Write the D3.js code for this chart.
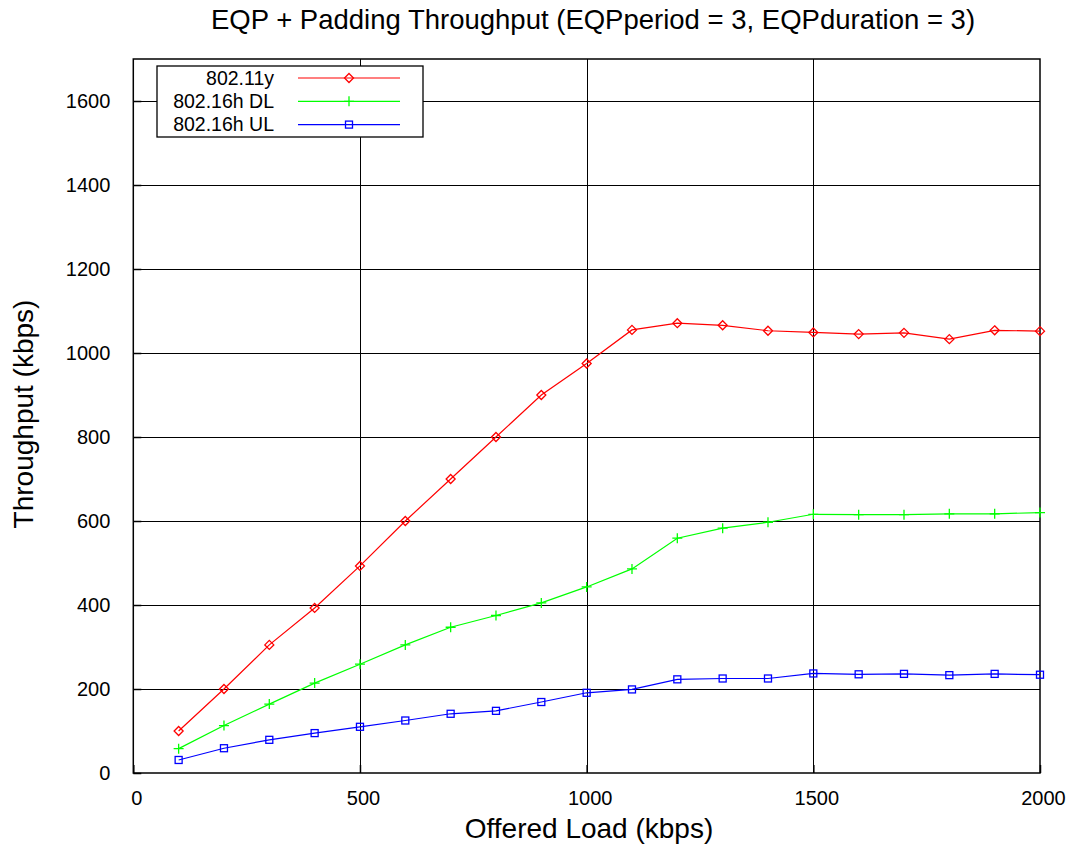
<!DOCTYPE html>
<html><head><meta charset="utf-8">
<script src="https://cdn.jsdelivr.net/npm/d3@7"></script>
<style>body{margin:0;background:#fff;} text{font-family:"Liberation Sans",Arial,sans-serif;}</style>
</head><body>
<svg id="c" width="1071" height="849"></svg>
<script>
const offeredLoad = [100,200,300,400,500,600,700,800,900,1000,1100,1200,1300,1400,1500,1600,1700,1800,1900,2000];
const wifi11y = [100,200,305,393,493,600,700,800,900,975,1055,1071,1066,1053,1049,1045,1048,1033,1054,1052];
const wimaxDL = [58,113,164,214,259,305,347,375,405,443,486,559,583,597,616,615,615,617,617,620];
const wimaxUL = [31,59,79,95,110,125,141,148,169,191,199,223,225,225,237,235,236,233,236,234];
const seriesNames = ["802.11y","802.16h DL","802.16h UL"];
const seriesColors = ["#ff0000","#00ff00","#0000ff"];
const seriesMarkers = ["diamond","plus","square"];
const xTicks = [0,500,1000,1500,2000];
const yTicks = [0,200,400,600,800,1000,1200,1400,1600];
const titleText = "EQP + Padding Throughput (EQPperiod = 3, EQPduration = 3)";
const xLabel = "Offered Load (kbps)";
const yLabel = "Throughput (kbps)";

const svg = d3.select("#c");
const L=133.3, R=1040, T=59, B=773;
const x = d3.scaleLinear().domain([0,2000]).range([L,R]);
const y = d3.scaleLinear().domain([0,1700]).range([B,T]);

// grid
const g = svg.append("g");
g.selectAll(".vg").data(xTicks.filter(d=>d>0&&d<2000)).join("line")
 .attr("x1",d=>Math.round(x(d))+0.5).attr("x2",d=>Math.round(x(d))+0.5).attr("y1",T).attr("y2",B)
 .attr("stroke","#000").attr("stroke-width",1);
g.selectAll(".hg").data(yTicks.filter(d=>d>0)).join("line")
 .attr("y1",d=>Math.round(y(d))+0.5).attr("y2",d=>Math.round(y(d))+0.5).attr("x1",L).attr("x2",R)
 .attr("stroke","#000").attr("stroke-width",1);

// axes (labels only, ticks inward)
const xa = svg.append("g").attr("transform",`translate(0,${B})`)
 .call(d3.axisBottom(x).tickValues(xTicks).tickSize(-8).tickPadding(18).tickFormat(d3.format("d")));
const ya = svg.append("g").attr("transform",`translate(${L},0)`)
 .call(d3.axisLeft(y).tickValues(yTicks).tickSize(-8).tickPadding(23).tickFormat(d3.format("d")));
[xa,ya].forEach(a=>{a.select(".domain").remove();a.selectAll("text").attr("font-size",20).attr("fill","#000").style("font-family","Liberation Sans, Arial, sans-serif");a.selectAll("line").attr("stroke","#000").attr("stroke-width",1.5);});
xa.selectAll("text").attr("dy","0.71em").attr("dx",3);

// border
svg.append("rect").attr("x",L).attr("y",T).attr("width",R-L).attr("height",B-T)
 .attr("fill","none").attr("stroke","#000").attr("stroke-width",1.5);

const data = [wifi11y,wimaxDL,wimaxUL];
function marker(sel,type,color){
  if(type==="diamond"){
    sel.append("path").attr("d","M0,-4.5L4.5,0L0,4.5L-4.5,0Z").attr("fill","none").attr("stroke",color).attr("stroke-width",1.3);
  } else if(type==="plus"){
    sel.append("path").attr("d","M-5,0H5M0,-5V5").attr("stroke",color).attr("stroke-width",1.3);
  } else {
    sel.append("rect").attr("x",-3.5).attr("y",-3.5).attr("width",7).attr("height",7).attr("fill","none").attr("stroke",color).attr("stroke-width",1.3);
  }
}
const line = d3.line().x((d,i)=>x(offeredLoad[i])).y(d=>y(d));
data.forEach((vals,k)=>{
  svg.append("path").datum(vals).attr("d",line).attr("fill","none").attr("stroke",seriesColors[k]).attr("stroke-width",1.2);
  vals.forEach((v,i)=>{
    const m = svg.append("g").attr("transform",`translate(${x(offeredLoad[i])},${y(v)})`);
    marker(m,seriesMarkers[k],seriesColors[k]);
  });
});

// legend
const lg = svg.append("g");
lg.append("rect").attr("x",157).attr("y",66).attr("width",266).attr("height",71).attr("fill","#fff").attr("stroke","#000").attr("stroke-width",1.3);
seriesNames.forEach((n,k)=>{
  const yy = 78 + k*23.3;
  lg.append("text").attr("x",274).attr("y",yy).attr("dy","0.35em").attr("text-anchor","end").attr("font-size",19.5).text(n);
  lg.append("line").attr("x1",298).attr("x2",400).attr("y1",yy).attr("y2",yy).attr("stroke",seriesColors[k]).attr("stroke-width",1.2);
  const m = lg.append("g").attr("transform",`translate(349,${yy})`);
  marker(m,seriesMarkers[k],seriesColors[k]);
});

// titles
svg.append("text").attr("x",593).attr("y",29).attr("text-anchor","middle").attr("font-size",27.5).text(titleText);
svg.append("text").attr("x",589).attr("y",838).attr("text-anchor","middle").attr("font-size",28).text(xLabel);
svg.append("text").attr("transform","translate(33,414) rotate(-90)").attr("text-anchor","middle").attr("font-size",28).text(yLabel);
</script>
</body></html>
